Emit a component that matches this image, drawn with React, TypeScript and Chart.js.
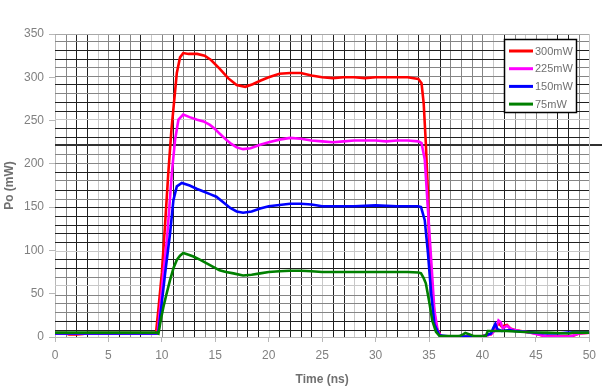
import React, { useEffect, useRef } from "react";
import { Chart, registerables } from "chart.js";

Chart.register(...registerables);

// ---- data ----
const seriesLabels = ["300mW", "225mW", "150mW", "75mW"];
const seriesColors = ["#ff0000", "#ff00ff", "#0000ff", "#008000"];

const redT = [0, 1, 1.3, 2, 2.6, 3, 4, 6, 8, 9.3, 9.45, 9.7, 10.0, 10.3, 10.6, 10.9, 11.1, 11.4, 11.7, 12.0, 12.5, 13.3, 14.0, 14.6, 15.4, 16.2, 17.0, 17.8, 18.5, 19.2, 20.0, 21.0, 22.0, 23.0, 24.0, 25.0, 26.0, 27.0, 28.0, 29.0, 30.0, 31.0, 32.0, 33.0, 34.0, 34.3, 34.5, 34.7, 34.9, 35.0, 35.3, 35.65, 36.1, 37, 38, 39, 40, 40.8, 41.2, 41.5, 41.8, 42.3, 42.6, 43.0, 44.0, 45.0, 45.8, 47, 48.4, 49, 50];
const redV = [4.5, 4.5, 3, 3, 3.5, 4.5, 4.5, 4.5, 4.5, 4.5, 4.5, 35, 74, 130, 189, 240, 266, 305, 323, 328, 327, 327, 325, 320, 310, 299, 291, 289, 292, 296, 300, 304, 305, 305, 302, 300, 299, 300, 300, 299, 300, 300, 300, 300, 298, 293, 270, 224, 166, 108, 50, 12, 1, 0.5, 0.5, 0.5, 1, 3, 10, 16, 12, 14, 10, 8, 6, 4, 1, 0.5, 1, 4, 5];

const magT = [0, 9.5, 9.6, 9.85, 10.15, 10.47, 10.7, 10.93, 11.24, 11.55, 12.0, 12.6, 13.3, 13.9, 14.5, 15.0, 15.4, 16.0, 16.5, 17.0, 17.6, 18.3, 19.2, 20.0, 21.0, 22.0, 23.0, 24.0, 25.0, 26.0, 27.0, 28.0, 29.0, 30.0, 31.0, 32.0, 33.0, 34.0, 34.3, 34.6, 34.9, 35.2, 35.5, 35.8, 36.1, 37, 40, 40.8, 41.2, 41.5, 41.7, 41.9, 42.3, 42.7, 43.5, 44.5, 45.5, 46, 48, 48.6, 49, 50];
const magV = [4, 4, 5, 35, 75, 112, 150, 189, 228, 251, 257, 254, 251, 249, 245, 240, 235, 228, 223, 219, 217, 218, 222, 225, 228, 230, 229, 227, 226, 225, 226, 227, 227, 227, 226, 227, 227, 226, 224, 205, 147, 89, 31, 8, 1, 0.5, 0.8, 3, 8, 19, 17, 10, 13, 9, 7, 5, 2, 0.5, 0.5, 2, 4, 5];

const blueT = [0, 9.6, 9.7, 9.84, 10.3, 10.77, 11.08, 11.4, 11.87, 12.6, 13.3, 13.9, 14.5, 15.1, 15.8, 16.4, 17.0, 17.6, 18.4, 19.2, 20.0, 21.0, 22.0, 23.0, 24.0, 25.0, 26.0, 28.0, 30.0, 32.0, 34.0, 34.25, 34.6, 34.9, 35.2, 35.5, 35.96, 37, 40, 40.8, 41.0, 41.2, 41.4, 41.8, 42.5, 43, 44, 45, 46, 47, 48, 50];
const blueV = [4, 4, 8, 23, 73, 120, 158, 174, 178, 175, 171, 168, 165, 162, 155, 149, 145, 143.5, 145, 148.5, 151, 152.5, 154, 154, 153, 151, 151, 151, 152, 151, 151, 150, 135, 97, 50, 15, 2, 0.5, 0.5, 4, 10, 15, 9, 7, 8, 7, 6, 5, 4, 4, 5, 5];

const greenT = [0, 9.5, 9.68, 9.9, 10.15, 10.4, 10.77, 11.1, 11.4, 11.7, 12.0, 12.5, 12.95, 13.6, 14.2, 14.8, 15.4, 16.0, 16.7, 17.6, 18.4, 19.2, 20.0, 21.0, 22.0, 23.0, 24, 25, 27, 29, 31, 33, 34, 34.25, 34.5, 34.7, 35.0, 35.3, 35.65, 36.0, 37.8, 38.2, 38.4, 38.8, 39.2, 40.3, 40.5, 42.2, 44.4, 46, 48.1, 48.4, 50];
const greenV = [5, 5, 4, 20, 35, 48, 66, 80, 89, 94, 97, 95, 93, 89, 85, 81, 77, 75, 73.5, 71, 72, 73.5, 75, 76, 76.5, 76.5, 76, 75, 75, 75, 75, 75, 74.5, 73.5, 68, 62, 42, 19, 6, 1, 1, 3, 4.6, 3, 1, 1, 7, 7, 5.5, 5, 4, 5, 5];

const xTicksStep = 5;
const yTicksStep = 50;

// overlay grid (positions in data units, with shade level D/G/L)
const vGridPos = [1, 2, 3, 4, 5, 6, 7, 8, 9, 10, 11, 12, 13, 14, 15, 16, 17, 18, 19, 20, 21, 22, 23, 24, 25, 26, 27, 28, 29, 30, 31, 32, 33, 34, 35, 36, 37, 38, 39, 40, 41, 42, 43, 44, 45, 46, 47, 48, 49];
const vGridShade = "GDDLGDGDLGDGDGGDGDDLDDDDLDDLDGGDLDGDGGGGLDGLGLDDG";
const hGridPos = [8.6, 18.5, 28.6, 38.7, 49, 59.6, 69.5, 79.6, 89.7, 99.7, 110, 120.5, 129.8, 139.9, 150, 159.6, 169.6, 180.8, 190.5, 201, 211.3, 221.3, 231, 241, 251.4, 261.5, 271.6, 282, 291.7, 301.7, 311.7, 321, 331, 341.8];
const hGridShade = "DDGGGLGDDLDDDDDGDGDGGTDDLDDGDGGDDG";

const shadeColor: Record<string, string> = { D: "#202020", G: "#858585", L: "#c8c8c8", T: "#303030" };

function toPoints(t: number[], v: number[]) {
  return t.map((x, i) => ({ x, y: v[i] }));
}

const gridPlugin = {
  id: "overlayGrid",
  beforeDatasetsDraw(chart: any) {
    const { ctx, chartArea, scales } = chart;
    const xs = scales.x;
    const ys = scales.y;
    const top = Math.round(ys.getPixelForValue(350));
    const bottom = Math.round(ys.getPixelForValue(0));
    const left = Math.round(xs.getPixelForValue(0));
    const right = Math.round(xs.getPixelForValue(50));
    ctx.save();
    ctx.lineWidth = 1;
    vGridPos.forEach((v, i) => {
      const px = Math.round(xs.getPixelForValue(v)) + 0.5;
      ctx.strokeStyle = shadeColor[vGridShade[i]];
      ctx.beginPath();
      ctx.moveTo(px, top);
      ctx.lineTo(px, bottom);
      ctx.stroke();
    });
    hGridPos.forEach((v, i) => {
      const s = hGridShade[i];
      const py = Math.round(ys.getPixelForValue(v)) + (s === "T" ? 0 : 0.5);
      ctx.strokeStyle = shadeColor[s];
      ctx.lineWidth = s === "T" ? 2 : 1;
      ctx.beginPath();
      ctx.moveTo(left, py);
      ctx.lineTo(s === "T" ? chart.width : right, py);
      ctx.stroke();
    });
    // top and right borders
    ctx.lineWidth = 1;
    ctx.strokeStyle = "#a8a8a8";
    ctx.beginPath();
    ctx.moveTo(left, top + 0.5);
    ctx.lineTo(right, top + 0.5);
    ctx.stroke();
    ctx.strokeStyle = "#c8c8c8";
    ctx.beginPath();
    ctx.moveTo(right + 0.5, top);
    ctx.lineTo(right + 0.5, bottom);
    ctx.stroke();
    ctx.restore();
  },
  afterDraw(chart: any) {
    const { ctx } = chart;
    ctx.save();
    const bx = 504.5, by = 39.5, bw = 72, bh = 73;
    ctx.fillStyle = "#ffffff";
    ctx.fillRect(bx, by, bw, bh);
    ctx.strokeStyle = "#000000";
    ctx.lineWidth = 1.5;
    ctx.strokeRect(bx, by, bw, bh);
    ctx.font = "11px 'Liberation Sans', Arial, sans-serif";
    ctx.textBaseline = "middle";
    ctx.textAlign = "left";
    seriesLabels.forEach((lab, i) => {
      const y = 51 + i * 17.7;
      ctx.strokeStyle = seriesColors[i];
      ctx.lineWidth = 3;
      ctx.beginPath();
      ctx.moveTo(509, y);
      ctx.lineTo(533, y);
      ctx.stroke();
      ctx.fillStyle = "#707070";
      ctx.fillText(lab, 535, y + 0.5);
    });
    ctx.restore();
  },
};

export default function App() {
  const ref = useRef<HTMLCanvasElement | null>(null);
  useEffect(() => {
    document.body.style.margin = "0";
    if (!ref.current) return;
    const seriesT = [redT, magT, blueT, greenT];
    const seriesV = [redV, magV, blueV, greenV];
    const chart = new Chart(ref.current, {
      type: "line",
      data: {
        datasets: seriesLabels.map((label, i) => ({
          label,
          data: toPoints(seriesT[i], seriesV[i]),
          borderColor: seriesColors[i],
          backgroundColor: seriesColors[i],
          borderWidth: 2.6,
          pointRadius: 0,
          tension: 0,
          fill: false,
          order: 3 - i,
        })),
      },
      options: {
        responsive: false,
        animation: false,
        events: [],
        layout: { padding: { left: 0, top: 34, right: 12, bottom: 0 } },
        plugins: { legend: { display: false }, tooltip: { enabled: false } },
        scales: {
          x: {
            type: "linear",
            min: 0,
            max: 50,
            afterFit: (s: any) => { s.height = 55; },
            ticks: {
              stepSize: xTicksStep,
              color: "#808080",
              font: { family: "'Liberation Sans', Arial, sans-serif", size: 12 },
              padding: 6,
              maxRotation: 0,
            },
            grid: { drawOnChartArea: false, drawTicks: true, tickLength: 5, color: "#b8b8b8" },
            border: { display: true, color: "#b8b8b8" },
            title: {
              display: true,
              text: "Time (ns)",
              color: "#707070",
              font: { family: "'Liberation Sans', Arial, sans-serif", size: 12, weight: "bold" },
              padding: { top: 0, bottom: 5 },
            },
          },
          y: {
            type: "linear",
            min: 0,
            max: 350,
            afterFit: (s: any) => { s.width = 55; },
            ticks: {
              stepSize: yTicksStep,
              color: "#808080",
              font: { family: "'Liberation Sans', Arial, sans-serif", size: 12 },
              padding: 5,
            },
            grid: { drawOnChartArea: false, drawTicks: true, tickLength: 6, color: "#b8b8b8" },
            border: { display: true, color: "#b8b8b8" },
            title: {
              display: true,
              text: "Po (mW)",
              color: "#707070",
              font: { family: "'Liberation Sans', Arial, sans-serif", size: 12, weight: "bold" },
              padding: { top: 2, bottom: 0 },
            },
          },
        },
      },
      plugins: [gridPlugin],
    });
    return () => chart.destroy();
  }, []);
  return <canvas ref={ref} width={602} height={392} style={{ display: "block" }} />;
}
